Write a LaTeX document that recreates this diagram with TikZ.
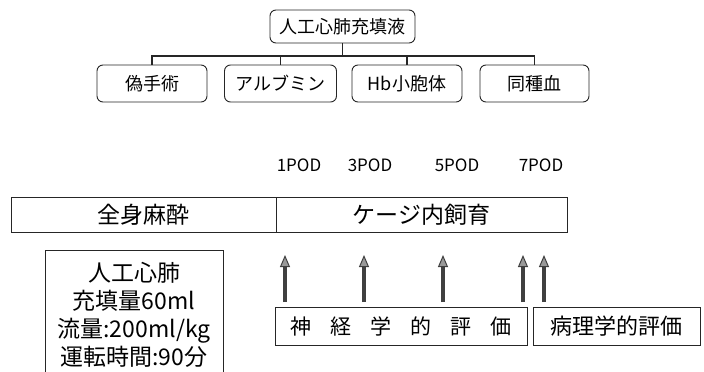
\documentclass[tikz,border=0pt]{standalone}
\usepackage{fontspec}
\setmainfont{Noto Sans CJK JP}
\usetikzlibrary{arrows.meta}
\begin{document}
\begin{tikzpicture}[x=1pt,y=-1pt,
  rbox/.style={draw=black!85, line width=0.9pt, rounded corners=6pt, inner sep=0pt,
    minimum height=37pt, font=\fontsize{18}{20}\selectfont},
  sbox/.style={draw=black!85, line width=0.9pt, inner sep=0pt},
  conn/.style={draw=black!85, line width=1.1pt},
  uparrow/.style={draw=black!75, line width=3.2pt,
    -{Triangle[width=10pt,length=12pt,fill=black!40,line width=1pt]}},
  podlabel/.style={font=\fontsize{17}{19}\selectfont}
]
\clip (0,0) rectangle (704,372);
\fill[white] (0,0) rectangle (704,372);

% tree
\node[rbox, minimum width=145pt, minimum height=33pt] (top) at (342.5,26.5) {人工心肺充填液};
\node[rbox, minimum width=110pt] (c1) at (152,83.5) {偽手術};
\node[rbox, minimum width=112pt] (c2) at (280.5,83.5) {アルブミン};
\node[rbox, minimum width=110pt] (c3) at (407,83.5) {Hb小胞体};
\node[rbox, minimum width=109pt] (c4) at (534.5,83.5) {同種血};
\coordinate (bar) at (0,56);
\draw[conn] (top.south) -- (top.south |- bar);
\draw[conn] (c1.north) -- (c1.north |- bar) -- (c4.north |- bar) -- (c4.north);
\draw[conn] (c2.north) -- (c2.north |- bar);
\draw[conn] (c3.north) -- (c3.north |- bar);

% POD labels
\node[podlabel] (p1) at (299,165) {1POD};
\node[podlabel] (p3) at (370,165) {3POD};
\node[podlabel] (p5) at (457,165) {5POD};
\node[podlabel] (p7) at (541,165) {7POD};

% main bar
\node[sbox, minimum width=265pt, minimum height=35pt, font=\fontsize{23}{25}\selectfont]
  (anes) at (143.5,214.5) {全身麻酔};
\node[sbox, minimum width=291pt, minimum height=35pt, font=\fontsize{23}{25}\selectfont]
  (cage) at (421.5,214.5) {ケージ内飼育};

% left box
\node[sbox, minimum width=178pt, minimum height=130pt, align=center,
  font=\fontsize{23}{28}\selectfont] (ecmo) at (134,315)
  {人工心肺\\充填量60ml\\流量:200ml/kg\\運転時間:90分};

% evaluation boxes
\node[sbox, minimum width=252pt, minimum height=38pt, font=\fontsize{21}{23}\selectfont]
  (neuro) at (401,326)
  {神\hspace{0.9em}経\hspace{0.9em}学\hspace{0.9em}的\hspace{0.9em}評\hspace{0.9em}価};
\node[sbox, minimum width=167pt, minimum height=38pt, font=\fontsize{22}{24}\selectfont]
  (patho) at (616.5,326) {病理学的評価};

% arrows
\foreach \i/\x in {1/285,2/364,3/443,4/523,5/544}{
  \coordinate (a\i b) at (\x,302);
  \coordinate (a\i t) at (\x,255);
  \draw[uparrow] (a\i b) -- (a\i t);
}
\end{tikzpicture}
\end{document}
